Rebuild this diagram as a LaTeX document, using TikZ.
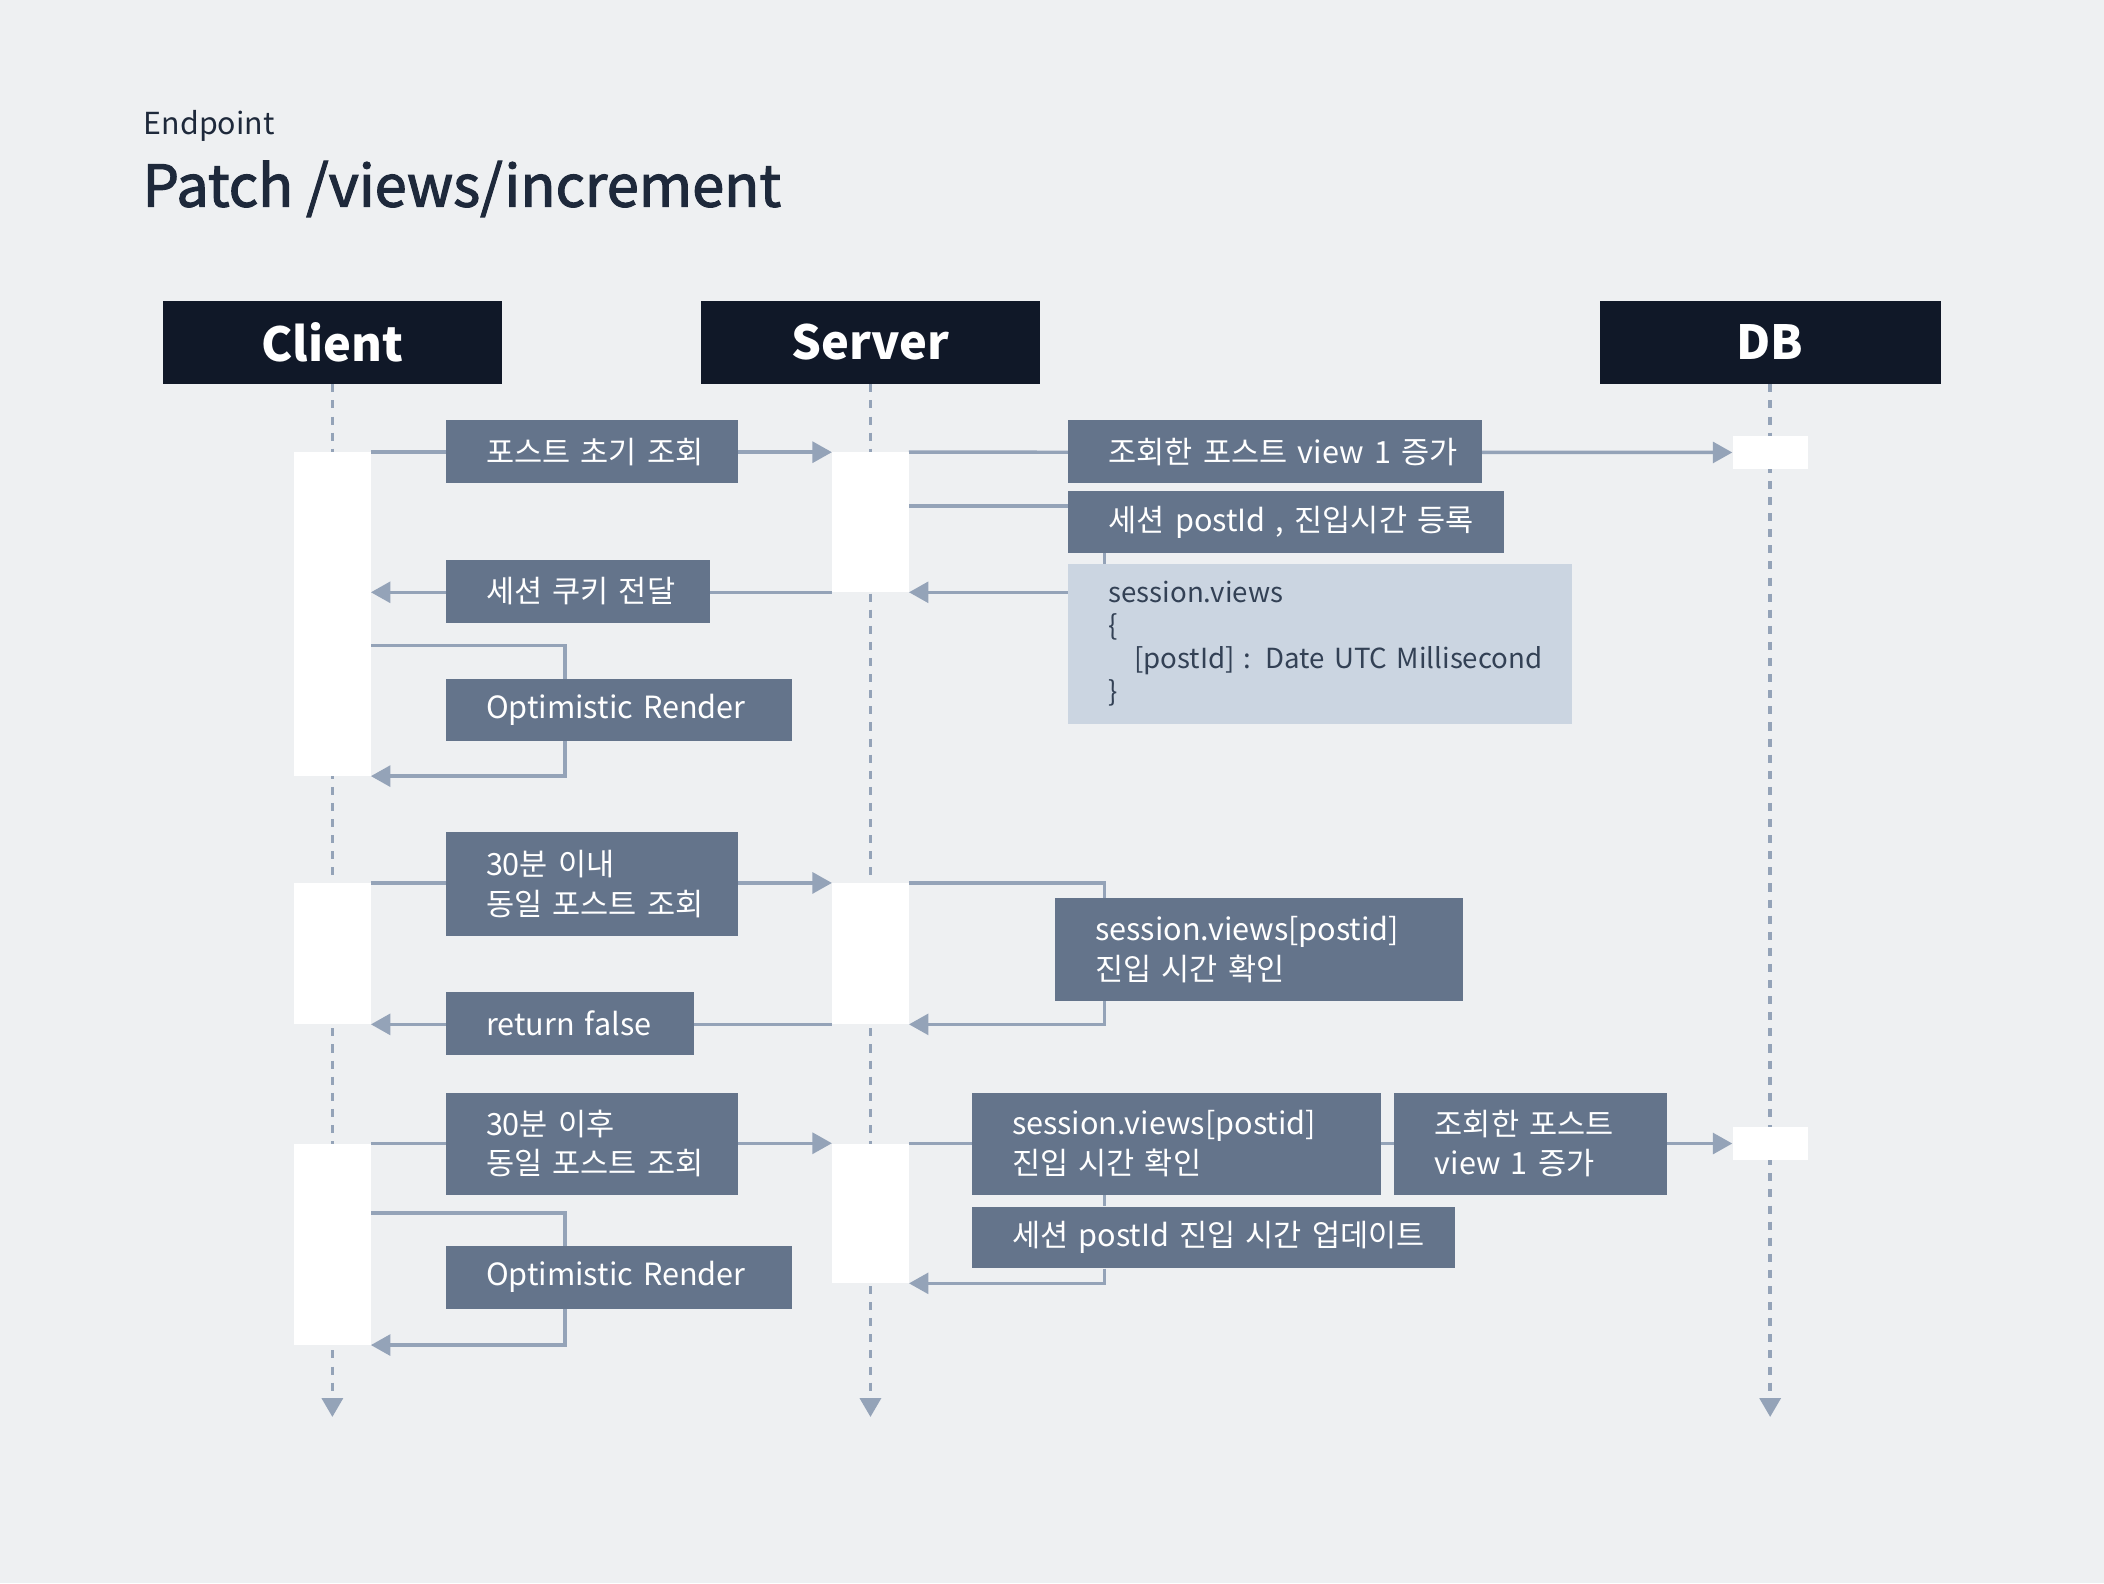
\documentclass[tikz,border=0pt]{standalone}
\usepackage{fontspec}
\setmainfont{Noto Sans CJK KR}
\newfontfamily\titlefont{Noto Sans CJK KR}[FakeBold=2]
\usetikzlibrary{arrows.meta}
\definecolor{bgc}{HTML}{EEF0F2}
\definecolor{headc}{HTML}{101828}
\definecolor{lblc}{HTML}{64748B}
\definecolor{notec}{HTML}{CBD5E1}
\definecolor{linec}{HTML}{94A3B8}
\definecolor{titlec}{HTML}{1E293B}
\definecolor{notetext}{HTML}{334155}
\pgfdeclarelayer{bgl}
\pgfdeclarelayer{lines}
\pgfsetlayers{bgl,lines,main}
\newcommand{\oneline}[1]{\mbox{#1}}
\begin{document}
\begin{tikzpicture}[x=1pt,y=-1pt,
  head/.style={fill=headc,text=white,font=\bfseries\fontsize{35}{38}\selectfont,minimum width=253pt,minimum height=62pt,inner sep=0pt,anchor=north west},
  actbox/.style={fill=white,minimum width=57pt,inner sep=0pt,anchor=north west},
  lbl/.style 2 args={fill=lblc,text=white,font=\fontsize{22.8}{29.5}\selectfont,align=left,inner xsep=30pt,inner ysep=0pt,text width=#1,minimum height=#2,anchor=north west},
  note/.style={fill=notec,text=notetext,font=\fontsize{20.6}{24.7}\selectfont,align=left,inner xsep=30pt,inner ysep=0pt,text width=315pt,minimum height=119pt,anchor=north west},
  ln/.style={draw=linec,line width=2.6pt},
  arr/.style={ln,-{Triangle[length=14.5pt,width=15.5pt]}},
  life/.style={draw=linec,line width=2.6pt,dash pattern=on 6pt off 6pt,-{Triangle[length=14pt,width=15.5pt]}}
]
\begin{pgfonlayer}{bgl}
\fill[bgc] (0,0) rectangle (1568,1180);
\end{pgfonlayer}
\useasboundingbox (0,0) rectangle (1568,1180);

% titles
\node[anchor=base west,inner sep=0pt,text=titlec,font=\fontsize{22.6}{26}\selectfont] (sub) at (107,100) {Endpoint};
\node[anchor=base west,inner sep=0pt,text=titlec,font=\titlefont\fontsize{43}{48}\selectfont] (title) at (106,154) {Patch /views/increment};

% headers
\node[head] (hc) at (121,224) {Client};
\node[head] (hs) at (522,224) {Server};
\node[head,minimum width=254pt] (hd) at (1192,224) {DB};

% activation boxes
\node[actbox,minimum height=241pt] (ca1) at (219,337) {};
\node[actbox,minimum height=104pt] (sa1) at (620,337) {};
\node[actbox,minimum width=56pt,minimum height=24pt] (da1) at (1291,325) {};
\node[actbox,minimum height=105pt] (ca2) at (219,658) {};
\node[actbox,minimum height=105pt] (sa2) at (620,658) {};
\node[actbox,minimum height=150pt] (ca3) at (219,852) {};
\node[actbox,minimum height=104pt] (sa3) at (620,852) {};
\node[actbox,minimum width=56pt,minimum height=24pt] (da2) at (1291,840) {};

% labels, client side
\node[lbl={158pt}{47pt}] (L1) at (332,313) {\oneline{포스트 초기 조회}};
\node[lbl={137pt}{47pt}] (L2) at (332,417) {\oneline{세션 쿠키 전달}};
\node[lbl={198pt}{46pt}] (L3) at (332,506) {\oneline{Optimistic Render}};
\node[lbl={158pt}{77pt}] (L4) at (332,620) {\oneline{30분 이내}\\\oneline{동일 포스트 조회}};
\node[lbl={125pt}{47pt}] (L5) at (332,739) {\oneline{return false}};
\node[lbl={158pt}{76pt}] (L6) at (332,814) {\oneline{30분 이후}\\\oneline{동일 포스트 조회}};
\node[lbl={198pt}{47pt}] (L7) at (332,928) {\oneline{Optimistic Render}};

% labels, server side
\node[lbl={248pt}{47pt}] (S1) at (796,313) {\oneline{조회한 포스트 view 1 증가}};
\node[lbl={265pt}{46pt}] (S2) at (796,366) {\oneline{세션 postId , 진입시간 등록}};
\node[note] (S3) at (796,420) {\oneline{session.views}\\\oneline{\{}\\\oneline{\hspace*{19pt}[postId] : Date UTC Millisecond}\\\oneline{\}}};
\node[lbl={244pt}{77pt}] (S4) at (786,669) {\oneline{session.views[postid]}\\\oneline{진입 시간 확인}};
\node[lbl={245pt}{76pt}] (S5) at (724,814) {\oneline{session.views[postid]}\\\oneline{진입 시간 확인}};
\node[lbl={143pt}{76pt}] (S6) at (1039,814) {\oneline{조회한 포스트}\\\oneline{view 1 증가}};
\node[lbl={300pt}{46pt}] (S7) at (724,899) {\oneline{세션 postId 진입 시간 업데이트}};

\begin{pgfonlayer}{lines}
% lifelines
\draw[life] (hc.south) -- (hc.south |- 0,1056);
\draw[life] (hs.south) -- (hs.south |- 0,1056);
\draw[life] (hd.south) -- (hd.south |- 0,1056);

% first request
\draw[arr] (ca1.north east) -- (sa1.north west);
\draw[arr] (sa1.north east) -- (da1.west);
\draw[ln] ([yshift=-40pt]sa1.north east) coordinate (t1) -- (t1 -| S2.west);
\draw[ln] ([xshift=27pt]S2.south west) -- ([xshift=27pt]S3.north west);
\draw[arr] (S3.west |- sa1.south east) -- (sa1.south east);
\draw[arr] (sa1.south west) -- (sa1.south west -| ca1.east);
\draw[arr] ([yshift=-144pt]ca1.north east) -| ([xshift=89pt]L3.north west) |- (ca1.south east);

% within 30 min
\draw[arr] (ca2.north east) -- (sa2.north west);
\draw[arr] (sa2.north east) -| ([xshift=37pt]S4.north west) |- (sa2.south east);
\draw[arr] (sa2.south west) -- (ca2.south east);

% after 30 min
\draw[arr] (ca3.north east) -- (sa3.north west);
\draw[ln] (sa3.north east) -- (sa3.north east -| S5.west);
\draw[ln] (S5.east) -- (S6.west);
\draw[arr] (S6.east) -- (da2.west);
\draw[ln] ([xshift=99pt]S5.south west) -- ([xshift=99pt]S7.north west);
\draw[arr] ([xshift=99pt]S7.south west) |- (sa3.south east);
\draw[arr] ([yshift=-52pt]ca3.north east) -| ([xshift=89pt]L7.north west) |- (ca3.south east);
\end{pgfonlayer}
\end{tikzpicture}
\end{document}
